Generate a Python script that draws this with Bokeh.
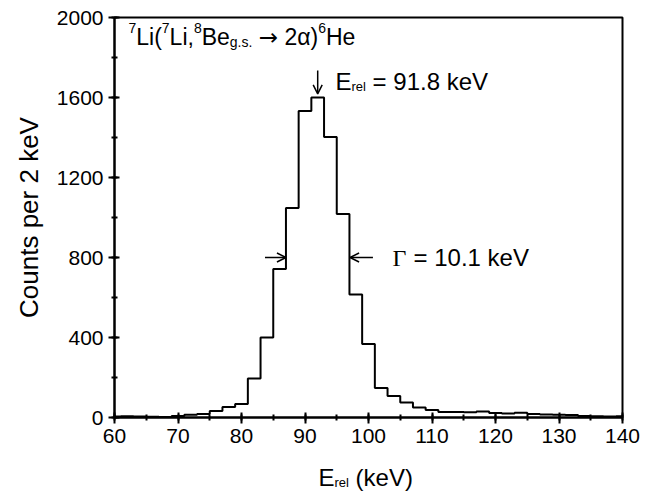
from bokeh.plotting import figure
from bokeh.layouts import column
from bokeh.models import (Range1d, SingleIntervalTicker, Label, Arrow, OpenHead)
from bokeh.embed import file_html
from bokeh.resources import INLINE

# ---- data (bin centres in keV, counts per 2 keV) ----
energy_kev = [60, 62, 64, 66, 68, 70, 72, 74, 76, 78,
              80, 82, 84, 86, 88, 90, 92, 94, 96, 98,
              100, 102, 104, 106, 108, 110, 112, 114, 116, 118,
              120, 122, 124, 126, 128, 130, 132, 134, 136, 138, 140]
counts = [5, 6, 5, 4, 3, 8, 14, 18, 32, 53,
          68, 195, 400, 743, 1047, 1533, 1600, 1403, 1017, 615,
          367, 147, 108, 75, 50, 38, 28, 27, 26, 30,
          22, 20, 24, 18, 15, 14, 12, 8, 6, 5, 6]
x_ticks_interval = 10
y_ticks_interval = 400
peak_energy = 92.0
peak_counts = 1600
fwhm_left = 87.0
fwhm_right = 97.1

SANS = "Liberation Sans"
SERIF = "Liberation Serif"
ARROWFONT = "DejaVu Sans"

p = figure(width=656, height=456, output_backend="svg", toolbar_location=None,
           x_range=Range1d(60, 140), y_range=Range1d(0, 2000),
           min_border_left=114, min_border_right=34, min_border_top=17,
           min_border_bottom=39)
p.grid.visible = False
p.background_fill_color = "white"
p.border_fill_color = "white"
p.outline_line_color = "black"
p.outline_line_width = 2

p.xaxis.ticker = SingleIntervalTicker(interval=x_ticks_interval, num_minor_ticks=2)
p.yaxis.ticker = SingleIntervalTicker(interval=y_ticks_interval, num_minor_ticks=2)
for ax in (p.xaxis, p.yaxis):
    ax.axis_line_width = 2
    ax.axis_line_color = "black"
    ax.major_tick_line_width = 2
    ax.minor_tick_line_width = 2
    ax.major_tick_line_color = "black"
    ax.minor_tick_line_color = "black"
    ax.major_tick_in = 5
    ax.major_tick_out = 6
    ax.minor_tick_in = 3
    ax.minor_tick_out = 3
    ax.major_label_text_font = SANS
    ax.major_label_text_font_size = "21px"
    ax.major_label_text_color = "black"
    ax.major_label_standoff = 5

p.yaxis.axis_label = "Counts per 2 keV"
p.yaxis.axis_label_text_font = SANS
p.yaxis.axis_label_text_font_size = "26px"
p.yaxis.axis_label_text_font_style = "normal"
p.yaxis.axis_label_text_color = "black"
p.yaxis.axis_label_standoff = 10

# histogram
p.step(energy_kev, counts, mode="center", line_color="black", line_width=2)

# arrows
head = dict(size=9, line_width=1.5, line_color="black")
p.add_layout(Arrow(end=OpenHead(**head), x_start=peak_energy, y_start=peak_counts + 135,
                   x_end=peak_energy, y_end=peak_counts + 18,
                   line_width=1.5, line_color="black"))
half = peak_counts / 2
p.add_layout(Arrow(end=OpenHead(**head), x_start=fwhm_left - 3.3, y_start=half,
                   x_end=fwhm_left, y_end=half, line_width=1.5, line_color="black"))
p.add_layout(Arrow(end=OpenHead(**head), x_start=fwhm_right + 3.6, y_start=half,
                   x_end=fwhm_right, y_end=half, line_width=1.5, line_color="black"))

# ---- text runs (rich text built from pieces) ----
W = {" ": 278, "(": 333, ")": 333, ",": 278, ".": 278, "=": 584, "E": 667, "H": 722,
     "L": 556, "B": 667, "V": 667, "e": 556, "i": 222, "k": 500, "l": 222, "r": 333,
     "g": 556, "s": 500, "\u03b1": 578, "\u2192": 838, "\u0393": 611}
for d in "0123456789":
    W[d] = 556

LIFT = 8  # compensation for the label baseline placement


def tw(text, size):
    return sum(W.get(c, 556) for c in text) * size / 1000.0


def runs(fig, parts, x0, y0):
    x = x0
    for text, size, dy, font in parts:
        stripped = text.lstrip(" ")
        x += (len(text) - len(stripped)) * W[" "] * size / 1000.0
        fig.add_layout(Label(x=x, y=y0 + dy + LIFT, x_units="screen", y_units="screen",
                             text=stripped, text_font=font, text_font_size=f"{size}px",
                             text_baseline="alphabetic", text_align="left",
                             text_color="black"))
        x += tw(stripped, size)


M, S = 23, 14
runs(p, [("7", S, 9, SANS), ("Li(", M, 0, SANS), ("7", S, 9, SANS), ("Li,", M, 0, SANS),
         ("8", S, 9, SANS), ("Be", M, 0, SANS), ("g.s.", S, -5, SANS),
         (" \u2192", M, 0, ARROWFONT), (" 2\u03b1)", M, 0, SANS), ("6", S, 9, SANS),
         ("He", M, 0, SANS)],
     14, 373)

runs(p, [("E", 24, 0, SANS), ("rel", 13, -5, SANS), (" =", 24, 0, SANS),
         (" 91.8 keV", 24, 0, SANS)], 221, 328)

runs(p, [("\u0393", 24, 0, SERIF)], 278, 152)
runs(p, [("= 10.1 keV", 24, 0, SANS)], 299, 152)

# x-axis title (separate strip below the plot so it is not clipped)
p2 = figure(width=656, height=42, output_backend="svg", toolbar_location=None,
            x_range=Range1d(0, 1), y_range=Range1d(0, 1),
            x_axis_type=None, y_axis_type=None,
            min_border_left=114, min_border_right=34, min_border_top=0, min_border_bottom=0)
p2.grid.visible = False
p2.outline_line_color = None
p2.background_fill_color = "white"
p2.border_fill_color = "white"
runs(p2, [("E", 24, 0, SANS), ("rel", 13, -5, SANS), (" (keV)", 24, 0, SANS)],
     204, 13)

layout = column(p, p2, spacing=0)
open("out.html", "w").write(file_html(layout, INLINE))
